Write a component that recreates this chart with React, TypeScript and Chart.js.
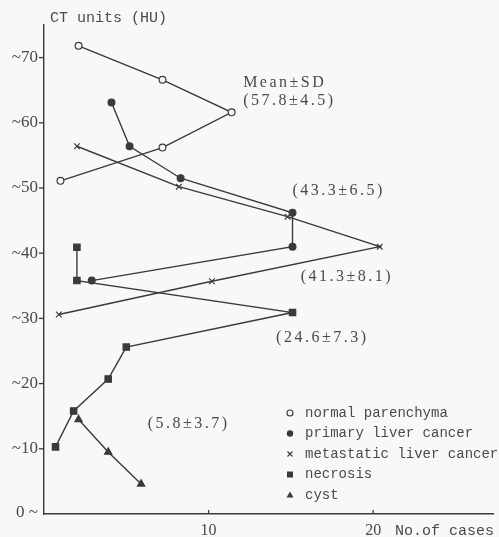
import React, { useEffect, useRef } from 'react';
import { Chart, registerables } from 'chart.js';

Chart.register(...registerables);

// ---- data (No. of cases vs CT units) ----
const normalX = [2.1, 7.2, 11.4, 7.2, 1.0];
const normalY = [71.8, 66.6, 61.6, 56.2, 51.1];
const primaryX = [4.1, 5.2, 8.3, 15.1, 15.1, 2.9];
const primaryY = [63.1, 56.4, 51.5, 46.2, 41.0, 35.8];
const metaX = [2.0, 8.2, 14.8, 20.4, 10.2, 0.9];
const metaY = [56.4, 50.2, 45.6, 41.0, 35.7, 30.6];
const necrosisX = [2.0, 2.0, 15.1, 5.0, 3.9, 1.8, 0.7];
const necrosisY = [40.9, 35.8, 30.9, 25.6, 20.7, 15.8, 10.3];
const cystX = [2.1, 3.9, 5.9];
const cystY = [14.5, 9.5, 4.6];

const seriesNames = [
  'normal parenchyma',
  'primary liver cancer',
  'metastatic liver cancer',
  'necrosis',
  'cyst',
];

const yTicks = [0, 10, 20, 30, 40, 50, 60, 70];
const yTickLabels = ['0 ~', '~10', '~20', '~30', '~40', '~50', '~60', '~70'];
const xTicks = [10, 20];
const xTickLabels = ['10', '20'];

const annotationTexts = ['Mean\u00b1SD', '(57.8\u00b14.5)', '(43.3\u00b16.5)', '(41.3\u00b18.1)', '(24.6\u00b17.3)', '(5.8\u00b13.7)'];
const annotationAtX = [12.1, 12.1, 15.1, 15.6, 14.1, 6.3];
const annotationAtY = [66.1, 63.4, 49.5, 36.4, 27.1, 13.8];

const LINE = '#3a3a3a';
const TEXT = '#4a4a4a';
const BG = '#f8f8f6';

const pts = (xs: number[], ys: number[]) => xs.map((x, i) => ({ x, y: ys[i] }));

const decor = {
  id: 'decor',
  beforeDraw(chart: any) {
    const { ctx, width, height } = chart;
    ctx.save();
    ctx.fillStyle = BG;
    ctx.fillRect(0, 0, width, height);
    ctx.restore();
  },
  afterDraw(chart: any) {
    const { ctx, chartArea } = chart;
    const xs = chart.scales.x;
    const ys = chart.scales.y;
    ctx.save();
    ctx.strokeStyle = LINE;
    ctx.fillStyle = TEXT;
    ctx.lineWidth = 1.3;

    // y ticks
    ctx.font = '17px "Liberation Serif"';
    ctx.textAlign = 'right';
    ctx.textBaseline = 'middle';
    yTicks.forEach((v, i) => {
      const py = ys.getPixelForValue(v);
      if (v > 0) {
        ctx.beginPath();
        ctx.moveTo(chartArea.left - 5, py);
        ctx.lineTo(chartArea.left, py);
        ctx.stroke();
      }
      ctx.fillText(yTickLabels[i], chartArea.left - 6, v > 0 ? py : py - 1);
    });

    // x ticks
    ctx.font = '16px "Liberation Serif"';
    ctx.textAlign = 'center';
    xTicks.forEach((v, i) => {
      const px = xs.getPixelForValue(v);
      ctx.beginPath();
      ctx.moveTo(px, chartArea.bottom - 4);
      ctx.lineTo(px, chartArea.bottom);
      ctx.stroke();
      ctx.fillText(xTickLabels[i], px, 531);
    });

    // axis titles
    ctx.font = '15px "Liberation Mono"';
    ctx.textAlign = 'left';
    ctx.fillText('No.of cases', 395, 531);
    ctx.fillText('CT units (HU)', 50, 18);

    // annotations
    ctx.font = '16px "Liberation Serif"';
    (ctx as any).letterSpacing = '2.5px';
    annotationTexts.forEach((t, i) => {
      ctx.fillText(t, xs.getPixelForValue(annotationAtX[i]), ys.getPixelForValue(annotationAtY[i]));
    });
    (ctx as any).letterSpacing = '0px';

    // legend
    ctx.font = '14px "Liberation Mono"';
    const lx = 290;
    const ly0 = 413;
    const step = 20.5;
    seriesNames.forEach((name, i) => {
      const yy = ly0 + i * step;
      ctx.fillStyle = TEXT;
      ctx.fillText(name, 305, yy);
      ctx.fillStyle = LINE;
      ctx.lineWidth = 1.1;
      ctx.beginPath();
      if (i === 0) {
        ctx.arc(lx, yy, 3, 0, Math.PI * 2);
        ctx.stroke();
      } else if (i === 1) {
        ctx.arc(lx, yy, 3.2, 0, Math.PI * 2);
        ctx.fill();
      } else if (i === 2) {
        ctx.moveTo(lx - 2.5, yy - 2.5);
        ctx.lineTo(lx + 2.5, yy + 2.5);
        ctx.moveTo(lx + 2.5, yy - 2.5);
        ctx.lineTo(lx - 2.5, yy + 2.5);
        ctx.stroke();
      } else if (i === 3) {
        ctx.fillRect(lx - 3, yy - 3, 6, 6);
      } else {
        ctx.moveTo(lx, yy - 3.5);
        ctx.lineTo(lx + 3.5, yy + 2.5);
        ctx.lineTo(lx - 3.5, yy + 2.5);
        ctx.closePath();
        ctx.fill();
      }
    });
    ctx.restore();
  },
};

export default function App() {
  const ref = useRef<HTMLCanvasElement>(null);
  useEffect(() => {
    const common = {
      borderColor: LINE,
      borderWidth: 1.4,
      fill: false,
      tension: 0,
      pointBorderColor: LINE,
      pointBorderWidth: 1.2,
    };
    const chart = new Chart(ref.current as HTMLCanvasElement, {
      type: 'line',
      data: {
        datasets: [
          { ...common, label: seriesNames[0], data: pts(normalX, normalY), pointStyle: 'circle', pointRadius: 3.4, pointBackgroundColor: BG },
          { ...common, label: seriesNames[1], data: pts(primaryX, primaryY), pointStyle: 'circle', pointRadius: 3.4, pointBackgroundColor: LINE },
          { ...common, label: seriesNames[2], data: pts(metaX, metaY), pointStyle: 'crossRot', pointRadius: 4, pointBackgroundColor: LINE },
          { ...common, label: seriesNames[3], data: pts(necrosisX, necrosisY), pointStyle: 'rect', pointRadius: 4.5, pointBackgroundColor: LINE },
          { ...common, label: seriesNames[4], data: pts(cystX, cystY), pointStyle: 'triangle', pointRadius: 4.2, pointBackgroundColor: LINE },
        ],
      } as any,
      options: {
        responsive: false,
        animation: false,
        layout: { padding: { left: 44, right: 0, top: 25, bottom: 23 } },
        plugins: { legend: { display: false }, tooltip: { enabled: false } },
        scales: {
          x: {
            type: 'linear',
            min: 0,
            max: 27.3,
            ticks: { display: false },
            grid: { display: false, drawTicks: false },
            border: { display: true, color: LINE, width: 1.4 },
          },
          y: {
            type: 'linear',
            min: 0,
            max: 75,
            ticks: { display: false },
            grid: { display: false, drawTicks: false },
            border: { display: true, color: LINE, width: 1.4 },
          },
        },
      } as any,
      plugins: [decor],
    });
    return () => chart.destroy();
  }, []);
  return (
    <div style={{ position: 'fixed', left: 0, top: 0, width: 499, height: 537 }}>
      <canvas ref={ref} width={499} height={537} style={{ display: 'block' }} />
    </div>
  );
}
